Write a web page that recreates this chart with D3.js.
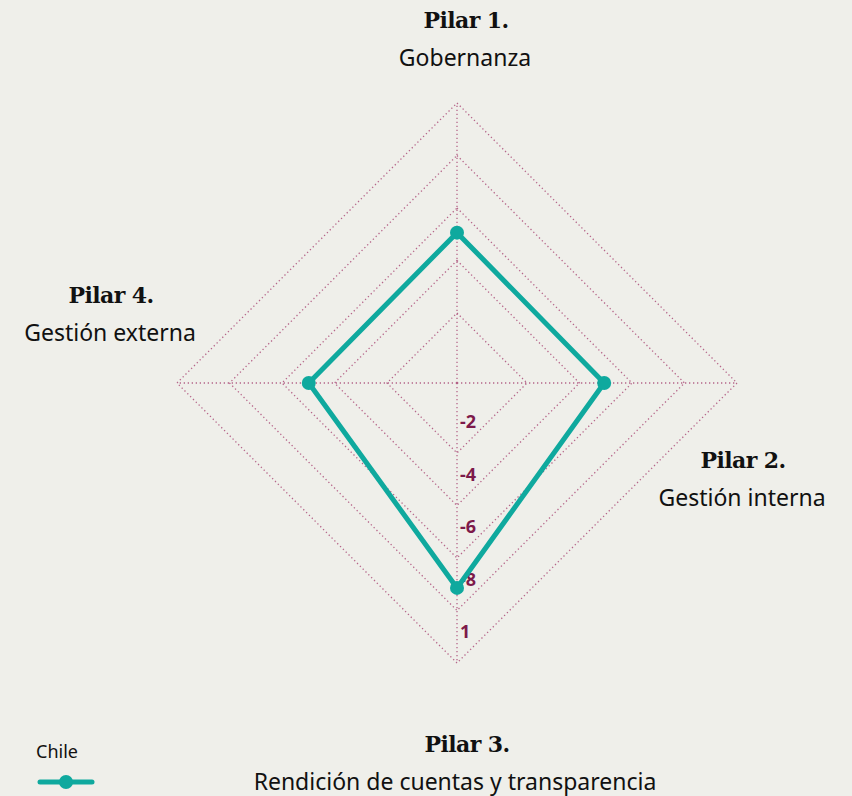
<!DOCTYPE html>
<html>
<head>
<meta charset="utf-8">
<script src="https://cdn.jsdelivr.net/npm/d3@7"></script>
<style>
  body { margin: 0; background: #efefea; }
  .pilar { font-family: "DejaVu Serif", "Liberation Serif", serif; font-weight: bold; font-size: 22px; letter-spacing: -0.6px; fill: #111; }
  .sub { font-family: "Noto Sans", sans-serif; font-size: 23px; fill: #111; }
  .tick-label { font-family: "Noto Sans", sans-serif; font-weight: bold; font-size: 18px; fill: #7d1a4a; }
</style>
</head>
<body>
<div id="plot"></div>
<script>
// data
var pillars = ["Pilar 1.", "Pilar 2.", "Pilar 3.", "Pilar 4."];
var pillarNames = ["Gobernanza", "Gestión interna", "Rendición de cuentas y transparencia", "Gestión externa"];
var chileValues = [2.53, 2.47, 3.57, 2.49];
var levels = [1, 2, 3, 4, 5];
var levelLabels = ["-2", "-4", "-6", "-8", "1"];
var seriesName = "Chile";

var width = 852, height = 796;
var cx = 457, cy = 383;
var teal = "#0fa99e", gridColor = "#a3386a";

var svg = d3.select("#plot")
  .append("svg")
    .attr("width", width)
    .attr("height", height);

svg.append("rect").attr("width", width).attr("height", height).attr("fill", "#efefea");

var g = svg.append("g").attr("transform", "translate(" + cx + "," + cy + ")");

// radial scale, outer ring = 280px
var r = d3.scaleLinear().domain([0, 5]).range([17.5, 280]);
var angle = d3.scalePoint().domain(d3.range(pillars.length)).range([0, Math.PI * 2 * 3 / 4]);

function pt(i, v) {
  var a = angle(i) - Math.PI / 2;
  return [Math.cos(a) * r(v), Math.sin(a) * r(v)];
}

// grid diamonds
levels.forEach(function(l) {
  g.append("path")
    .attr("d", d3.line()(d3.range(pillars.length).map(function(i) { return pt(i, l); })) + "Z")
    .attr("fill", "none")
    .attr("stroke", gridColor)
    .attr("stroke-width", 1.3)
    .attr("stroke-dasharray", "1.3,2.7")
    .attr("opacity", 0.75);
});

// axes
d3.range(pillars.length).forEach(function(i) {
  var p = pt(i, 5);
  g.append("line")
    .attr("x1", 0).attr("y1", 0)
    .attr("x2", p[0]).attr("y2", p[1])
    .attr("stroke", gridColor)
    .attr("stroke-width", 1.3)
    .attr("stroke-dasharray", "1.3,2.7")
    .attr("opacity", 0.75);
});

// tick labels along bottom axis
g.selectAll(".tick-label")
  .data(levels)
  .enter()
  .append("text")
    .attr("class", "tick-label")
    .attr("x", 3)
    .attr("y", function(d) { return r(d) - 25; })
    .text(function(d, i) { return levelLabels[i]; });

// series polygon
var pts = chileValues.map(function(v, i) { return pt(i, v); });
g.append("path")
  .attr("d", d3.line()(pts) + "Z")
  .attr("fill", "none")
  .attr("stroke", teal)
  .attr("stroke-width", 5)
  .attr("stroke-linejoin", "round");

g.selectAll(".dot")
  .data(pts)
  .enter()
  .append("circle")
    .attr("cx", function(d) { return d[0]; })
    .attr("cy", function(d) { return d[1]; })
    .attr("r", 7)
    .attr("fill", teal);

// pillar labels
var labelPos = [
  {x: 466, y: 28},
  {x: 743, y: 468},
  {x: 467, y: 752},
  {x: 111, y: 303}
];
pillars.forEach(function(p, i) {
  var t = svg.append("text")
    .attr("text-anchor", "middle")
    .attr("x", labelPos[i].x)
    .attr("y", labelPos[i].y);
  t.append("tspan").attr("class", "pilar").text(p);
  t.append("tspan").attr("class", "sub")
    .attr("x", i == 2 ? labelPos[i].x - 12 : labelPos[i].x - 1)
    .attr("dy", 38)
    .text(pillarNames[i]);
});

// legend
var legend = svg.append("g").attr("transform", "translate(36,758)");
legend.append("text")
  .attr("font-family", "Noto Sans, sans-serif")
  .attr("font-size", 18)
  .attr("fill", "#111")
  .text(seriesName);
legend.append("line")
  .attr("x1", 4).attr("x2", 56)
  .attr("y1", 24).attr("y2", 24)
  .attr("stroke", teal)
  .attr("stroke-width", 5)
  .attr("stroke-linecap", "round");
legend.append("circle")
  .attr("cx", 30).attr("cy", 24).attr("r", 7)
  .attr("fill", teal);
</script>
</body>
</html>
